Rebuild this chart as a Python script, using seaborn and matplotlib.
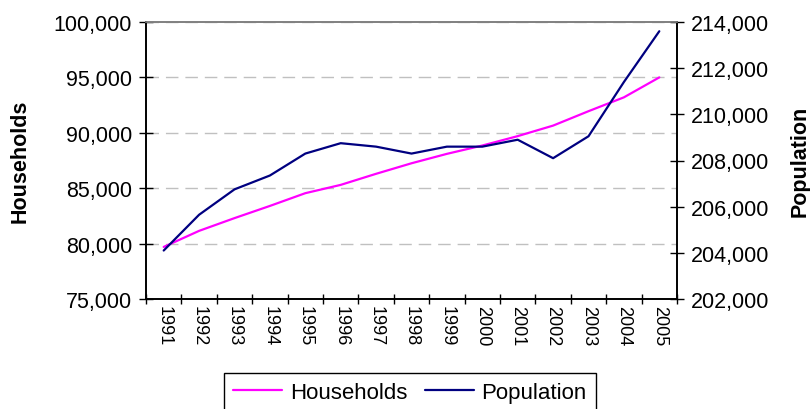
import numpy as np
import pandas as pd
import matplotlib
matplotlib.use("Agg")
import matplotlib.pyplot as plt
import matplotlib.ticker as mticker
import seaborn as sns

# values
years = ["1991", "1992", "1993", "1994", "1995", "1996", "1997", "1998",
         "1999", "2000", "2001", "2002", "2003", "2004", "2005"]
households = [79700, 81150, 82300, 83400, 84550, 85300, 86300, 87250,
              88100, 88850, 89700, 90650, 91950, 93200, 95000]
population = [204100, 205650, 206750, 207350, 208300, 208750, 208600, 208300,
              208600, 208600, 208900, 208100, 209050, 211400, 213600]

df = pd.DataFrame({"Year": years, "Households": households, "Population": population})

sns.set_theme(style="white")
plt.rcParams["font.family"] = ["Liberation Sans", "DejaVu Sans"]
plt.rcParams["text.color"] = "black"
plt.rcParams["xtick.color"] = "black"
plt.rcParams["ytick.color"] = "black"

fig = plt.figure(figsize=(8.1, 4.1), dpi=100)
ax = fig.add_axes([146 / 810, 1 - 300 / 410, (677 - 146) / 810, (300 - 23) / 410])
ax2 = ax.twinx()

sns.lineplot(data=df, x="Year", y="Households", ax=ax, color="#FF00FF",
             linewidth=1.6, label="Households", legend=False, sort=False)
sns.lineplot(data=df, x="Year", y="Population", ax=ax2, color="#000080",
             linewidth=1.6, label="Population", legend=False, sort=False)

ax.set_xlim(-0.5, len(years) - 0.5)
ax.set_ylim(75000, 100000)
ax2.set_ylim(202000, 214000)
ax.set_yticks(np.arange(75000, 100001, 5000))
ax2.set_yticks(np.arange(202000, 214001, 2000))
fmt = mticker.FuncFormatter(lambda v, p: f"{v:,.0f}")
ax.yaxis.set_major_formatter(fmt)
ax2.yaxis.set_major_formatter(fmt)

# category labels centred, tick marks between categories
ax.set_xticks(range(len(years)))
ax.set_xticklabels(years, rotation=-90, fontsize=13)
ax.set_xticks(np.arange(-0.5, len(years), 1.0), minor=True)
ax.tick_params(axis="x", which="major", length=0, pad=4, labelcolor="black")
ax.tick_params(axis="x", which="minor", direction="inout", length=7,
               width=1, color="#000000", bottom=True)
ax.tick_params(axis="y", direction="inout", length=10, width=1,
               color="#000000", labelsize=15.5, pad=5, left=True, labelcolor="black")
ax2.tick_params(axis="y", direction="inout", length=10, width=1,
                color="#000000", labelsize=15.5, pad=5, right=True, labelcolor="black")

ax.set_xlabel("")
ax.set_ylabel("")
ax2.set_ylabel("")

ax.yaxis.grid(True, color="#C0C0C0", linestyle=(0, (9, 5)), linewidth=1)
ax.set_axisbelow(True)

for a in (ax, ax2):
    for side in ("left", "right", "bottom"):
        a.spines[side].set_color("#000000")
        a.spines[side].set_linewidth(1.2)
    a.spines["top"].set_color("#808080")
    a.spines["top"].set_linewidth(1.2)

fig.text(20 / 810, 1 - 161 / 410, "Households", rotation=90, ha="center",
         va="center", fontsize=15.5, fontweight="bold", color="black")
fig.text(800 / 810, 1 - 161 / 410, "Population", rotation=90, ha="center",
         va="center", fontsize=15.5, fontweight="bold", color="black")

h1, l1 = ax.get_legend_handles_labels()
h2, l2 = ax2.get_legend_handles_labels()
leg = fig.legend(h1 + h2, l1 + l2, loc="upper center", bbox_to_anchor=(410 / 810, 1 - 374 / 410),
                 ncol=2, frameon=True, fancybox=False, edgecolor="#000000", framealpha=1,
                 fontsize=16, handlelength=2.2, handletextpad=0.35, columnspacing=0.8,
                 borderpad=0.4, borderaxespad=0)
for t in leg.get_texts():
    t.set_color("black")

fig.savefig("out.png", dpi=100)
